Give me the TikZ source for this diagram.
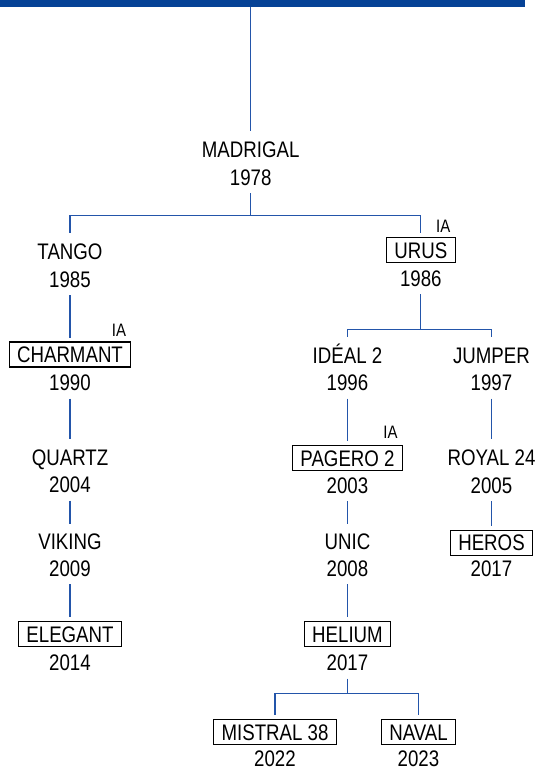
\documentclass[tikz,border=0pt]{standalone}
\usepackage{fontspec}
\setmainfont{Liberation Sans}[FakeStretch=0.83]
\definecolor{barblue}{RGB}{6,66,150}
\definecolor{lineblue}{RGB}{35,85,170}
\begin{document}
\begin{tikzpicture}[
  x=1pt, y=-1pt,
  conn/.style={draw=lineblue, line width=1.2pt},
  lbl/.style={font=\fontsize{22.5}{24}\selectfont, text height=16pt, text depth=0pt,
              inner xsep=2pt, inner ysep=10pt, outer sep=0pt},
  yr/.style={lbl, inner ysep=8pt},
  lastyr/.style={lbl, inner ysep=1pt},
  boxed/.style={lbl, draw=black, line width=1.1pt, inner xsep=8pt, inner ysep=4.5pt,
                outer xsep=0pt, outer ysep=4.5pt},
  ia/.style={font=\fontsize{18}{19}\selectfont, inner sep=0pt, text height=12.5pt, text depth=0pt}
]
\useasboundingbox (0,0) rectangle (536,771);
\fill[barblue] (0,0) rectangle (525,7);
\coordinate (topend) at (250.7,7);

% root
\node[lbl] (madrigal) at (250.7,149.3) {MADRIGAL};
\node[yr]  (madrigalY) at (250.7,177.3) {1978};

% left column
\node[lbl]   (tango) at (70,251) {TANGO};
\node[yr]    (tangoY) at (70,279) {1985};
\node[boxed] (charmant) at (70,354.5) {CHARMANT};
\node[yr]    (charmantY) at (70,382.7) {1990};
\node[lbl]   (quartz) at (70,457.3) {QUARTZ};
\node[yr]    (quartzY) at (70,484.7) {2004};
\node[lbl]   (viking) at (70,541.7) {VIKING};
\node[yr]    (vikingY) at (70,568.3) {2009};
\node[boxed] (elegant) at (70,634) {ELEGANT};
\node[lastyr] (elegantY) at (70,662.7) {2014};

% right branch
\node[boxed] (urus) at (420.8,250) {URUS};
\node[yr]    (urusY) at (420.8,278.3) {1986};
\node[lbl]   (ideal) at (347.5,355) {IDÉAL 2};
\node[yr]    (idealY) at (347.5,382.7) {1996};
\node[lbl]   (jumper) at (491.5,355) {JUMPER};
\node[yr]    (jumperY) at (491.5,382.7) {1997};
\node[boxed] (pagero) at (347.5,458) {PAGERO 2};
\node[yr]    (pageroY) at (347.5,485) {2003};
\node[lbl]   (royal) at (491.5,457.3) {ROYAL 24};
\node[yr]    (royalY) at (491.5,485) {2005};
\node[lbl]   (unic) at (347.5,541.7) {UNIC};
\node[yr]    (unicY) at (347.5,568.3) {2008};
\node[boxed] (heros) at (491.5,542.8) {HEROS};
\node[lastyr] (herosY) at (491.5,568.3) {2017};
\node[boxed] (helium) at (347.5,634) {HELIUM};
\node[yr]    (heliumY) at (347.5,662.7) {2017};
\node[boxed] (mistral) at (275,732) {MISTRAL 38};
\node[lastyr] (mistralY) at (275,758) {2022};
\node[boxed] (naval) at (418.5,732) {NAVAL};
\node[lastyr] (navalY) at (418.5,758) {2023};

% IA labels
\node[ia] (iaUrus) at ([xshift=-12pt,yshift=6.8pt]urus.north east) {IA};
\node[ia] (iaCharmant) at ([xshift=-12pt,yshift=7.2pt]charmant.north east) {IA};
\node[ia] (iaPagero) at ([xshift=-12pt,yshift=9pt]pagero.north east) {IA};

% branch points
\coordinate (b1) at (250.7,215.7);
\coordinate (b2) at (420.8,329.3);
\coordinate (b3) at (347.5,693.3);

% connectors
\draw[conn] (topend) -- (madrigal.north);
\draw[conn] (madrigalY.south) -- (b1);
\draw[conn] (b1) -| (tango.north);
\draw[conn] (b1) -| (urus.north);
\draw[conn] (tangoY.south) -- (charmant.north);
\draw[conn] (charmantY.south) -- (quartz.north);
\draw[conn] (quartzY.south) -- (viking.north);
\draw[conn] (vikingY.south) -- (elegant.north);
\draw[conn] (urusY.south) -- (b2);
\draw[conn] (b2) -| (ideal.north);
\draw[conn] (b2) -| (jumper.north);
\draw[conn] (idealY.south) -- (pagero.north);
\draw[conn] (pageroY.south) -- (unic.north);
\draw[conn] (unicY.south) -- (helium.north);
\draw[conn] (jumperY.south) -- (royal.north);
\draw[conn] (royalY.south) -- (heros.north);
\draw[conn] (heliumY.south) -- (b3);
\draw[conn] (b3) -| (mistral.north);
\draw[conn] (b3) -| (naval.north);
\end{tikzpicture}
\end{document}
